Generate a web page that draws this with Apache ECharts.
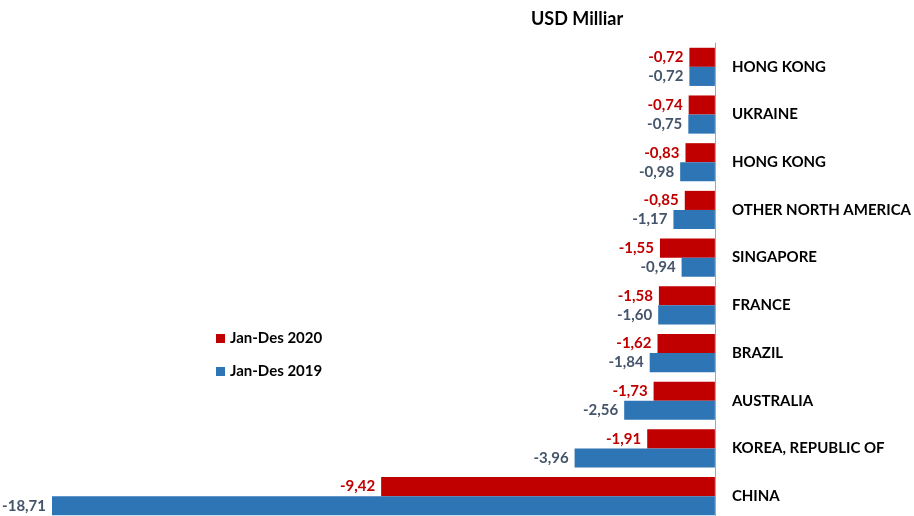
<!DOCTYPE html>
<html><head><meta charset="utf-8">
<script src="https://cdn.jsdelivr.net/npm/echarts@6/dist/echarts.min.js"></script>
<style>html,body{margin:0;padding:0;background:#fff;overflow:hidden}#c{width:914px;height:524px}</style>
</head><body><div id="c"></div>
<script>
const categories = ["HONG KONG","UKRAINE","HONG KONG","OTHER NORTH AMERICA","SINGAPORE","FRANCE","BRAZIL","AUSTRALIA","KOREA, REPUBLIC OF","CHINA"];
const values2020 = [-0.72,-0.74,-0.83,-0.85,-1.55,-1.58,-1.62,-1.73,-1.91,-9.42];
const values2019 = [-0.72,-0.75,-0.98,-1.17,-0.94,-1.60,-1.84,-2.56,-3.96,-18.71];
const seriesNames = ["Jan-Des 2020","Jan-Des 2019"];
const FONT = "Lato";
const fmt = p => p.value.toFixed(2).replace('.', ',');
const chart = echarts.init(document.getElementById('c'));
chart.setOption({
  animation:false,
  title:{text:"USD Milliar",left:526,top:5,textStyle:{fontFamily:FONT,fontWeight:'bold',fontSize:18,color:'#000'}},
  legend:{orient:'vertical',left:211,top:326,itemWidth:9,itemHeight:9,itemGap:18,icon:'rect',
    textStyle:{fontFamily:FONT,fontWeight:'bold',fontSize:15,color:'#000'},data:seriesNames},
  grid:{left:52,right:198,top:43,height:477,containLabel:false},
  xAxis:{type:'value',min:-18.71,max:0,show:false},
  yAxis:{type:'category',data:categories,inverse:true,position:'right',
    axisLine:{show:true,lineStyle:{color:'#A6A6A6',width:1}},axisTick:{show:false},
    axisLabel:{margin:17,align:'left',fontFamily:FONT,fontWeight:'bold',fontSize:15,color:'#000'}},
  series:[
    {name:seriesNames[0],type:'bar',data:values2020,barGap:'0%',barCategoryGap:'20%',
      itemStyle:{color:'#C00000'},
      label:{show:true,position:'left',distance:6,formatter:fmt,fontFamily:FONT,fontWeight:'bold',fontSize:15,color:'#C00000'}},
    {name:seriesNames[1],type:'bar',data:values2019,barGap:'0%',barCategoryGap:'20%',
      itemStyle:{color:'#2E75B6'},
      label:{show:true,position:'left',distance:6,formatter:fmt,fontFamily:FONT,fontWeight:'bold',fontSize:15,color:'#44546A'}}
  ]
});
</script></body></html>
